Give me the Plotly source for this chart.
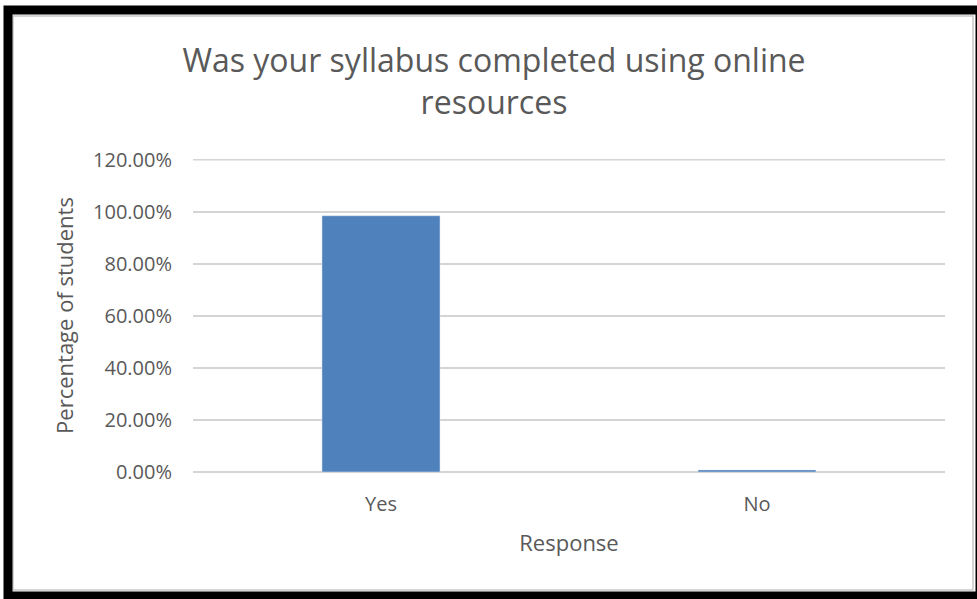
import plotly.graph_objects as go

categories = ["Yes", "No"]
values = [98.5, 0.8]
y_ticks = [0, 20, 40, 60, 80, 100, 120]
y_tick_labels = ["0.00%", "20.00%", "40.00%", "60.00%", "80.00%", "100.00%", "120.00%"]

W, H = 977, 599
L, R, T, B = 193, 32, 159, 127
pw, ph = W - L - R, H - T - B

def px(x):
    return (x - L) / pw

def py(y):
    return (H - B - y) / ph

fig = go.Figure(go.Bar(x=categories, y=values, marker_color="#4f81bd", width=0.314))

font_family = "Open Sans, Liberation Sans, sans-serif"
grey = "#595959"
clear = "rgba(0,0,0,0)"
grid = "#d4d4d4"

fig.update_layout(
    width=W, height=H,
    margin=dict(l=L, r=R, t=T, b=B),
    paper_bgcolor="white", plot_bgcolor="white",
    showlegend=False,
    title=dict(text="Was your syllabus completed using online<br>resources",
               x=px(494), xref="paper", xanchor="center",
               y=1 - 72 / H, yref="container", yanchor="middle",
               font=dict(family=font_family, size=32, color=grey)),
    xaxis=dict(title=dict(text="Response", font=dict(family=font_family, size=22, color=grey), standoff=19),
               tickfont=dict(family=font_family, size=20, color=grey),
               showgrid=False, showline=False, ticks="outside", ticklen=14, tickcolor=clear),
    yaxis=dict(title=dict(text="Percentage of students", font=dict(family=font_family, size=22, color=grey), standoff=13),
               range=[0, 120.3], tickvals=y_ticks, ticktext=y_tick_labels,
               tickfont=dict(family=font_family, size=20, color=grey),
               showgrid=True, gridcolor=grid, gridwidth=1.5,
               zeroline=True, zerolinecolor=grid, zerolinewidth=1.5,
               showline=False, ticks="outside", ticklen=16, tickcolor=clear),
    shapes=[
        dict(type="line", xref="paper", yref="y", x0=0, x1=1, y0=y_ticks[-1], y1=y_ticks[-1],
             line=dict(color=grid, width=1.5), layer="below"),
        dict(type="rect", xref="paper", yref="paper",
             x0=px(13), x1=px(973), y0=py(16), y1=py(590),
             line=dict(color="#c8c8c8", width=1.5), layer="below"),
        dict(type="rect", xref="paper", yref="paper",
             x0=px(8), x1=px(980), y0=py(10), y1=py(596),
             line=dict(color="black", width=9), layer="above"),
    ],
)

fig.write_html("out.html", config={"displayModeBar": False})
with open("out.html", encoding="utf-8") as f:
    html = f.read()
html = html.replace("<head>", "<head><style>html,body{margin:0;padding:0;overflow:hidden;}</style>", 1)
with open("out.html", "w", encoding="utf-8") as f:
    f.write(html)
